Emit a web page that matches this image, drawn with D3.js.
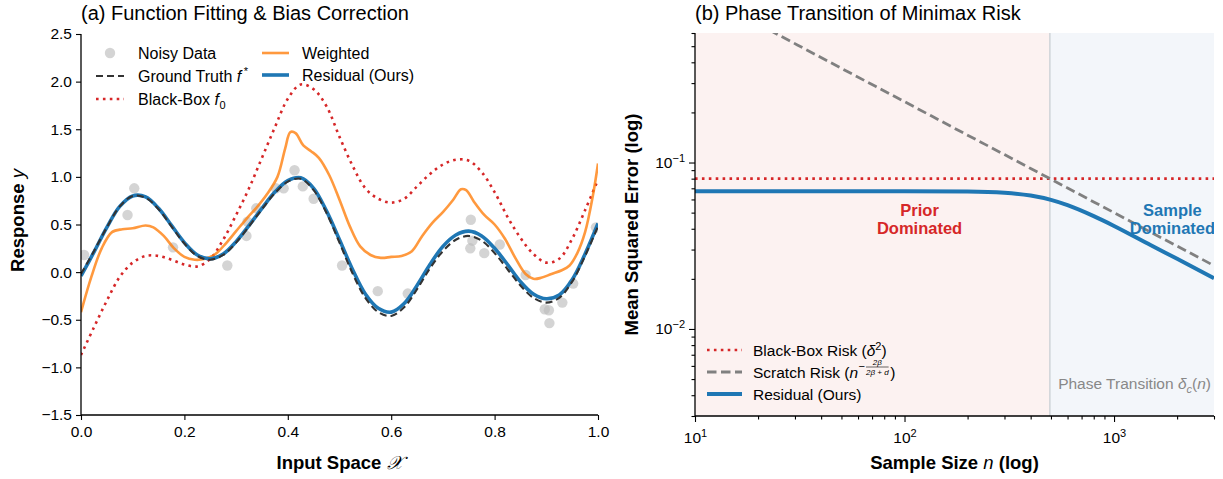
<!DOCTYPE html>
<html><head><meta charset="utf-8">
<script src="https://cdn.jsdelivr.net/npm/d3@7"></script>
<style>
body{margin:0;background:#fff}
svg{display:block}
text{font-family:"Liberation Sans",Arial,Helvetica,sans-serif;fill:#000}
</style>
</head><body>
<svg id="c" width="1223" height="479"></svg>
<script>
// ---------------- Panel (a) data ----------------
const fitX = [0,0.025,0.05,0.075,0.1,0.125,0.15,0.175,0.2,0.225,0.25,0.275,0.3,0.325,0.35,0.375,0.4,0.425,0.45,0.475,0.5,0.525,0.55,0.575,0.6,0.625,0.65,0.675,0.7,0.725,0.75,0.775,0.8,0.825,0.85,0.875,0.9,0.925,0.95,0.975,1.0];
const groundTruth = [-0.02,0.22,0.47,0.69,0.80,0.78,0.66,0.48,0.30,0.17,0.13,0.18,0.31,0.48,0.66,0.83,0.95,0.98,0.86,0.62,0.31,-0.01,-0.27,-0.42,-0.46,-0.37,-0.18,0.04,0.22,0.34,0.38,0.33,0.20,0.03,-0.14,-0.27,-0.32,-0.27,-0.10,0.17,0.48];
const residualFit = [-0.04,0.21,0.47,0.69,0.80,0.79,0.67,0.49,0.31,0.18,0.14,0.19,0.32,0.49,0.67,0.84,0.96,0.99,0.88,0.64,0.34,0.03,-0.23,-0.38,-0.42,-0.33,-0.14,0.08,0.27,0.39,0.43,0.38,0.25,0.08,-0.10,-0.23,-0.28,-0.24,-0.08,0.19,0.51];
const weightedX = [0,0.02,0.04,0.06,0.08,0.1,0.125,0.14,0.16,0.18,0.2,0.22,0.24,0.26,0.28,0.3,0.32,0.34,0.36,0.38,0.395,0.405,0.415,0.43,0.445,0.46,0.48,0.5,0.52,0.54,0.56,0.58,0.6,0.62,0.64,0.66,0.68,0.7,0.72,0.735,0.745,0.76,0.78,0.8,0.82,0.84,0.86,0.875,0.89,0.91,0.93,0.945,0.96,0.975,0.99,1.0];
const weightedFit = [-0.42,-0.05,0.25,0.42,0.45,0.46,0.49,0.47,0.38,0.25,0.16,0.13,0.14,0.19,0.30,0.43,0.56,0.68,0.82,1.00,1.30,1.47,1.46,1.33,1.27,1.20,1.02,0.76,0.48,0.27,0.18,0.15,0.16,0.17,0.22,0.38,0.52,0.63,0.76,0.87,0.86,0.74,0.60,0.50,0.35,0.15,-0.02,-0.07,-0.06,-0.02,0.02,0.07,0.20,0.42,0.80,1.14];
const blackBoxX = fitX;
const blackBoxFit = [-0.87,-0.58,-0.30,-0.05,0.10,0.17,0.17,0.13,0.08,0.06,0.14,0.34,0.60,0.88,1.20,1.52,1.82,1.97,1.92,1.74,1.42,1.12,0.88,0.77,0.73,0.77,0.90,1.03,1.13,1.18,1.17,1.05,0.84,0.58,0.36,0.19,0.10,0.14,0.35,0.65,0.97];
const noisyX = [0.006,0.09,0.103,0.178,0.283,0.32,0.322,0.339,0.377,0.392,0.413,0.429,0.45,0.505,0.574,0.632,0.754,0.757,0.753,0.78,0.81,0.86,0.897,0.905,0.906,0.931,0.952,0.996];
const noisyY = [0.18,0.60,0.88,0.26,0.07,0.38,0.53,0.67,0.88,0.88,1.07,0.90,0.77,0.07,-0.20,-0.225,0.55,0.33,0.25,0.20,0.29,-0.03,-0.39,-0.40,-0.535,-0.32,-0.12,0.47];
const leftXTicks = [0,0.2,0.4,0.6,0.8,1.0];
const leftYTicks = [-1.5,-1.0,-0.5,0,0.5,1.0,1.5,2.0,2.5];

// ---------------- Panel (b) data ----------------
const sampleSizes = [10,20,50,100,200,300,400,500,600,800,1000,1500,2000,3000];
const scratchRisk = [1.077,0.679,0.368,0.232,0.146,0.1116,0.0921,0.0794,0.0703,0.058,0.05,0.0381,0.0315,0.024];
const residualRisk = [0.0672,0.0672,0.0672,0.0672,0.0669,0.0658,0.0633,0.0596,0.0554,0.0476,0.0416,0.0318,0.0264,0.0202];
const blackBoxN = [10,3000];
const blackBoxRisk = [0.08,0.08];
const phaseTransitionN = 494;
const rightXMajor = [10,100,1000];
const rightXMinor = [20,30,40,50,60,70,80,90,200,300,400,500,600,700,800,900,2000,3000];
const rightYMajor = [0.01,0.1];
const rightYMinor = [0.003,0.004,0.005,0.006,0.007,0.008,0.009,0.02,0.03,0.04,0.05,0.06,0.07,0.08,0.09,0.2,0.3,0.4,0.5,0.6];

// colors
const C_BLUE="#1f77b4", C_ORANGE="#ff7f0e", C_RED="#d62728", C_GRAY="#808080";
const TICK_FS="15.5px", LAB_FS="18.5px", LEG_FS="16px";

const svg = d3.select("#c");
const defs = svg.append("defs");

// ================= Panel (a) =================
const A = {l:81, r:598, t:34, b:415};
const xa = d3.scaleLinear().domain([0,1]).range([A.l,A.r]);
const ya = d3.scaleLinear().domain([-1.5,2.5]).range([A.b,A.t]);
defs.append("clipPath").attr("id","clipA").append("rect")
  .attr("x",A.l).attr("y",A.t).attr("width",A.r-A.l).attr("height",A.b-A.t);
const gA = svg.append("g");
const plotA = gA.append("g").attr("clip-path","url(#clipA)");

plotA.selectAll("circle.nd").data(noisyX.map((x,i)=>[x,noisyY[i]])).enter().append("circle")
  .attr("cx",d=>xa(d[0])).attr("cy",d=>ya(d[1])).attr("r",5.2)
  .attr("fill","#bdbdbd").attr("fill-opacity",0.65);

const lineA = (xs,ys)=> d3.line().curve(d3.curveCatmullRom.alpha(0.5))
  .x((d,i)=>xa(xs[i])).y(d=>ya(d))(ys);

plotA.append("path").attr("d",lineA(blackBoxX,blackBoxFit)).attr("fill","none")
  .attr("stroke",C_RED).attr("stroke-width",2.6).attr("stroke-dasharray","2.6,4.3");
plotA.append("path").attr("d",lineA(weightedX,weightedFit)).attr("fill","none")
  .attr("stroke",C_ORANGE).attr("stroke-opacity",0.8).attr("stroke-width",2.6).attr("stroke-linejoin","round");
plotA.append("path").attr("d",lineA(fitX,residualFit)).attr("fill","none")
  .attr("stroke",C_BLUE).attr("stroke-width",3.6).attr("stroke-linejoin","round");
plotA.append("path").attr("d",lineA(fitX,groundTruth)).attr("fill","none")
  .attr("stroke","#333").attr("stroke-width",2.1).attr("stroke-dasharray","7,4");

// axes
const axA_x = gA.append("g").attr("transform",`translate(0,${A.b})`)
  .call(d3.axisBottom(xa).tickValues(leftXTicks).tickFormat(d3.format(".1f")).tickSize(5).tickPadding(6));
const axA_y = gA.append("g").attr("transform",`translate(${A.l},0)`)
  .call(d3.axisLeft(ya).tickValues(leftYTicks).tickFormat(d3.format(".1f")).tickSize(5).tickPadding(4));
[axA_x,axA_y].forEach(g=>{
  g.selectAll("text").attr("font-size",TICK_FS).attr("fill","#000").style("font-family","'Liberation Sans',Arial,sans-serif");
  g.selectAll("line").attr("stroke","#000").attr("stroke-width",1.1);
  g.select(".domain").attr("stroke","#000").attr("stroke-width",1.3);
});
axA_x.select(".domain").attr("d",`M${A.l},0H${A.r}`);
axA_y.select(".domain").attr("d",`M0,${A.b}V${A.t}`);

// title & labels
gA.append("text").attr("x",A.l).attr("y",20).attr("font-size","20px").text("(a) Function Fitting & Bias Correction");
const xlA = gA.append("text").attr("x",(A.l+A.r)/2).attr("y",469).attr("text-anchor","middle")
  .attr("font-size",LAB_FS).attr("font-weight","bold");
xlA.append("tspan").text("Input Space ");
xlA.append("tspan").attr("font-weight","normal").attr("font-style","italic").style("font-family","'DejaVu Serif',serif").text("𝒳");
const ylA = gA.append("text").attr("transform",`translate(24,${(A.t+A.b)/2 - 4}) rotate(-90)`)
  .attr("text-anchor","middle").attr("font-size",LAB_FS).attr("font-weight","bold");
ylA.append("tspan").text("Response ");
ylA.append("tspan").attr("font-weight","normal").attr("font-style","italic").text("y");

// legend (a)
const legA = gA.append("g").attr("font-size",LEG_FS);
function legLine(g,x1,x2,y,stroke,w,dash,op){
  g.append("line").attr("x1",x1).attr("x2",x2).attr("y1",y).attr("y2",y)
   .attr("stroke",stroke).attr("stroke-width",w).attr("stroke-dasharray",dash||null).attr("stroke-opacity",op||1);
}
legA.append("circle").attr("cx",110).attr("cy",53).attr("r",5.2).attr("fill","#bdbdbd").attr("fill-opacity",0.65);
legA.append("text").attr("x",138).attr("y",59).text("Noisy Data");
legLine(legA,96,124,76,"#333",2.1,"7,4");
const tGT = legA.append("text").attr("x",138).attr("y",82);
tGT.append("tspan").text("Ground Truth ");
tGT.append("tspan").attr("font-style","italic").text("f");
tGT.append("tspan").attr("dx",2.5).attr("dy",-7).attr("font-size","11px").text("*");
legLine(legA,96,124,99,C_RED,2.6,"2.6,4.3");
const tBB = legA.append("text").attr("x",138).attr("y",105);
tBB.append("tspan").text("Black-Box ");
tBB.append("tspan").attr("font-style","italic").text("f");
tBB.append("tspan").attr("dx",0.5).attr("dy",4).attr("font-size","11px").text("0");
legLine(legA,262,289,53,C_ORANGE,2.6,null,0.8);
legA.append("text").attr("x",302).attr("y",59).text("Weighted");
legLine(legA,262,289,75,C_BLUE,3.6);
legA.append("text").attr("x",302).attr("y",81).text("Residual (Ours)");

// ================= Panel (b) =================
const B = {l:695, r:1214, t:33, b:416};
const xb = d3.scaleLog().domain([10,3000]).range([B.l,B.r]);
const yb = d3.scaleLog().domain([0.003,0.6]).range([B.b,B.t]);
defs.append("clipPath").attr("id","clipB").append("rect")
  .attr("x",B.l).attr("y",B.t).attr("width",B.r-B.l).attr("height",B.b-B.t);
const gB = svg.append("g");
const plotB = gB.append("g").attr("clip-path","url(#clipB)");
plotB.append("rect").attr("x",B.l).attr("y",B.t).attr("width",xb(phaseTransitionN)-B.l).attr("height",B.b-B.t)
  .attr("fill","#fcf2f1");
plotB.append("rect").attr("x",xb(phaseTransitionN)).attr("y",B.t).attr("width",B.r-xb(phaseTransitionN)).attr("height",B.b-B.t)
  .attr("fill","#f3f6fa");
plotB.append("line").attr("x1",xb(phaseTransitionN)).attr("x2",xb(phaseTransitionN)).attr("y1",B.t).attr("y2",B.b)
  .attr("stroke","#cfd3d8").attr("stroke-width",1.5);

const lineB = (xs,ys)=> d3.line().curve(d3.curveMonotoneX).x((d,i)=>xb(xs[i])).y(d=>yb(d))(ys);
plotB.append("path").attr("d",lineB(blackBoxN,blackBoxRisk)).attr("fill","none")
  .attr("stroke",C_RED).attr("stroke-width",2.6).attr("stroke-dasharray","2.6,4.3");
plotB.append("path").attr("d",lineB(sampleSizes,scratchRisk)).attr("fill","none")
  .attr("stroke",C_GRAY).attr("stroke-width",2.8).attr("stroke-dasharray","9.5,4.5");
plotB.append("path").attr("d",lineB(sampleSizes,residualRisk)).attr("fill","none")
  .attr("stroke",C_BLUE).attr("stroke-width",4).attr("stroke-linejoin","round");

// annotations
const pd = plotB.append("text").attr("text-anchor","middle").attr("font-size","16.5px").attr("font-weight","bold");
pd.append("tspan").attr("x",xb(118)).attr("y",yb(0.0475)).text("Prior").attr("fill",C_RED);
pd.append("tspan").attr("x",xb(118)).attr("dy",18).text("Dominated").attr("fill",C_RED);
const sd = plotB.append("text").attr("text-anchor","middle").attr("font-size","16.5px").attr("font-weight","bold");
sd.append("tspan").attr("x",xb(1900)).attr("y",yb(0.0475)).text("Sample").attr("fill",C_BLUE);
sd.append("tspan").attr("x",xb(1900)).attr("dy",18).text("Dominated").attr("fill",C_BLUE);
const pt = plotB.append("text").attr("text-anchor","end").attr("x",B.r-3).attr("y",yb(0.00435)).attr("font-size","15.5px");
pt.append("tspan").text("Phase Transition ").attr("fill","#888");
pt.append("tspan").attr("font-style","italic").text("δ").attr("fill","#888");
pt.append("tspan").attr("font-style","italic").attr("font-size","11px").attr("dy",4).text("c").attr("fill","#888");
pt.append("tspan").attr("dy",-4).text("(").attr("fill","#888");
pt.append("tspan").attr("font-style","italic").text("n").attr("fill","#888");
pt.append("tspan").text(")").attr("fill","#888");

// axes (b)
function supLabels(g){
  g.selectAll(".tick text").each(function(d){
    const e = Math.round(Math.log10(d));
    const t = d3.select(this); t.text("10");
    t.append("tspan").attr("dy","-0.55em").attr("font-size","11px").text(e<0?"−"+(-e):String(e));
  });
}
const axB_x = gB.append("g").attr("transform",`translate(0,${B.b})`)
  .call(d3.axisBottom(xb).tickValues(rightXMajor).tickSize(6).tickPadding(10));
supLabels(axB_x);
const axB_xm = gB.append("g").attr("transform",`translate(0,${B.b})`)
  .call(d3.axisBottom(xb).tickValues(rightXMinor).tickSize(3.5).tickFormat(""));
const axB_y = gB.append("g").attr("transform",`translate(${B.l},0)`)
  .call(d3.axisLeft(yb).tickValues(rightYMajor).tickSize(6).tickPadding(4));
supLabels(axB_y);
const axB_ym = gB.append("g").attr("transform",`translate(${B.l},0)`)
  .call(d3.axisLeft(yb).tickValues(rightYMinor).tickSize(3.5).tickFormat(""));
[axB_x,axB_xm,axB_y,axB_ym].forEach(g=>{
  g.selectAll("text").attr("font-size",TICK_FS).attr("fill","#000").style("font-family","'Liberation Sans',Arial,sans-serif");
  g.selectAll("text tspan").attr("font-size","11px");
  g.selectAll("line").attr("stroke","#000").attr("stroke-width",1.1);
  g.select(".domain").attr("stroke","#000").attr("stroke-width",1.3);
});
axB_xm.select(".domain").remove(); axB_ym.select(".domain").remove();
axB_x.select(".domain").attr("d",`M${B.l},0H${B.r}`);
axB_y.select(".domain").attr("d",`M0,${B.b}V${B.t}`);

gB.append("text").attr("x",B.l).attr("y",20).attr("font-size","20px").text("(b) Phase Transition of Minimax Risk");
const xlB = gB.append("text").attr("x",(B.l+B.r)/2).attr("y",469).attr("text-anchor","middle")
  .attr("font-size",LAB_FS).attr("font-weight","bold");
xlB.append("tspan").text("Sample Size ");
xlB.append("tspan").attr("font-weight","normal").attr("font-style","italic").text("n");
xlB.append("tspan").text(" (log)");
gB.append("text").attr("transform",`translate(638,${(B.t+B.b)/2}) rotate(-90)`)
  .attr("text-anchor","middle").attr("font-size",LAB_FS).attr("font-weight","bold").text("Mean Squared Error (log)");

// legend (b)
const legB = gB.append("g").attr("font-size","15.5px");
legLine(legB,707,742,350,C_RED,2.6,"2.6,4.3");
const tb1 = legB.append("text").attr("x",753).attr("y",355.5);
tb1.append("tspan").text("Black-Box Risk (");
tb1.append("tspan").attr("font-style","italic").text("δ");
tb1.append("tspan").attr("dy",-6).attr("font-size","11px").text("2");
tb1.append("tspan").attr("dy",6).text(")");
legLine(legB,707,742,372,C_GRAY,2.8,"9.5,4.5");
const tb2 = legB.append("text").attr("x",753).attr("y",377.5);
tb2.append("tspan").text("Scratch Risk (");
tb2.append("tspan").attr("font-style","italic").text("n");
let wx = 753 + tb2.node().getComputedTextLength();
const minus = legB.append("text").attr("x",wx+0.5).attr("y",370).attr("font-size","11px").text("−");
wx += minus.node().getComputedTextLength()+1.5;
const num = legB.append("text").attr("y",364.5).attr("font-size","8px").attr("font-style","italic").attr("text-anchor","middle").text("2β");
const den = legB.append("text").attr("y",375).attr("font-size","8px").attr("font-style","italic").attr("text-anchor","middle").text("2β + d");
const fw = Math.max(num.node().getComputedTextLength(),den.node().getComputedTextLength());
num.attr("x",wx+fw/2); den.attr("x",wx+fw/2);
legB.append("line").attr("x1",wx).attr("x2",wx+fw).attr("y1",367).attr("y2",367).attr("stroke","#000").attr("stroke-width",0.6);
legB.append("text").attr("x",wx+fw+1.5).attr("y",377.5).text(")");
legLine(legB,707,742,394,C_BLUE,4);
legB.append("text").attr("x",753).attr("y",399.5).text("Residual (Ours)");
</script>
</body></html>
